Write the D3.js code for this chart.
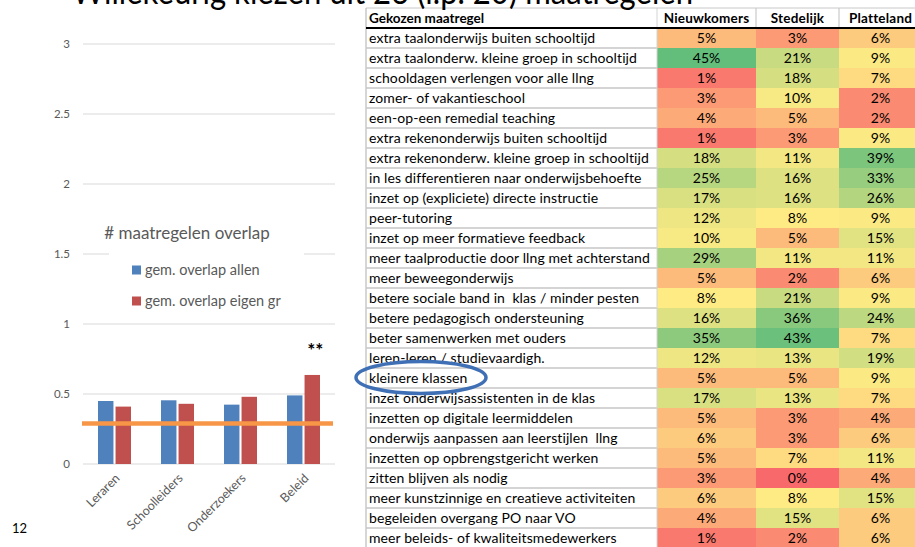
<!DOCTYPE html>
<html><head><meta charset="utf-8">
<script src="https://cdn.jsdelivr.net/npm/d3@7"></script>
<style>
html,body{margin:0;padding:0;background:#fff;}
svg{display:block;font-family:Lato,"Open Sans",sans-serif;}
text{white-space:pre;}
</style></head>
<body><svg id="c" width="915" height="547"></svg>
<script>
// ---- Left chart data ----
const groups = ["Leraren","Schoolleiders","Onderzoekers","Beleid"];
const overlapAll = [0.45, 0.455, 0.424, 0.49];
const overlapOwn = [0.41, 0.43, 0.48, 0.636];
const chanceLevel = 0.29;
const yTicks = [0, 0.5, 1, 1.5, 2, 2.5, 3];
const seriesNames = ["gem. overlap allen", "gem. overlap eigen gr"];

// ---- Table data ----
const columns = ["Nieuwkomers","Stedelijk","Platteland"];
const measures = [
 "extra taalonderwijs buiten schooltijd",
 "extra taalonderw. kleine groep in schooltijd",
 "schooldagen verlengen voor alle llng",
 "zomer- of vakantieschool",
 "een-op-een remedial teaching",
 "extra rekenonderwijs buiten schooltijd",
 "extra rekenonderw. kleine groep in schooltijd",
 "in les differentieren naar onderwijsbehoefte",
 "inzet op (expliciete) directe instructie",
 "peer-tutoring",
 "inzet op meer formatieve feedback",
 "meer taalproductie door llng met achterstand",
 "meer beweegonderwijs",
 "betere sociale band in  klas / minder pesten",
 "betere pedagogisch ondersteuning",
 "beter samenwerken met ouders",
 "leren-leren / studievaardigh.",
 "kleinere klassen",
 "inzet onderwijsassistenten in de klas",
 "inzetten op digitale leermiddelen",
 "onderwijs aanpassen aan leerstijlen  llng",
 "inzetten op opbrengstgericht werken",
 "zitten blijven als nodig",
 "meer kunstzinnige en creatieve activiteiten",
 "begeleiden overgang PO naar VO",
 "meer beleids- of kwaliteitsmedewerkers"
];
const nieuwkomers = [5,45,1,3,4,1,18,25,17,12,10,29,5,8,16,35,12,5,17,5,6,5,3,6,4,1];
const stedelijk   = [3,21,18,10,5,3,11,16,16,8,5,11,2,21,36,43,13,5,13,3,3,7,0,8,15,2];
const platteland  = [6,9,7,2,2,9,39,33,26,9,15,11,6,9,24,7,19,9,7,4,6,11,4,15,6,6];
const highlighted = "kleinere klassen";
const titleText = "Willekeurig kiezen uit 26 (i.p. 20) maatregelen";
const slideNumber = "12";

const svg = d3.select("#c");

// ================= LEFT CHART =================
const L = {x0: 83, x1: 335, y0: 464, y1: 44};
const y = d3.scaleLinear().domain([0, 3]).range([L.y0, L.y1]);
const x = d3.scaleBand().domain(groups).range([L.x0, L.x1]);
const inner = d3.scaleBand().domain([0,1]).range([x.bandwidth()/2 - 16.5, x.bandwidth()/2 + 16.5]).paddingInner(0.12);

const left = svg.append("g");
left.append("g").selectAll("line").data(yTicks).join("line")
  .attr("x1", L.x0).attr("x2", L.x1)
  .attr("y1", d => y(d)).attr("y2", d => y(d))
  .attr("stroke", "#d9d9d9").attr("stroke-width", 1);
const yAxis = d3.axisLeft(y).tickValues(yTicks).tickSize(0).tickPadding(0).tickFormat(d3.format(""));
const yg = left.append("g").attr("transform", `translate(${L.x0 - 13},0)`).call(yAxis);
yg.select(".domain").remove();
yg.selectAll("text").attr("fill", "#595959").style("font-size", "11.5px").style("font-family", "Lato, sans-serif");

// legend / title white box
left.append("rect").attr("x", 109).attr("y", 205).attr("width", 195).attr("height", 108).attr("fill", "#fff");
left.append("text").attr("x", 187).attr("y", 239).attr("text-anchor", "middle")
  .attr("fill", "#595959").style("font-size", "17px").text("# maatregelen overlap");
const legColors = ["#4F81BD", "#C0504D"];
seriesNames.forEach((s, i) => {
  const ly = 270 + i * 31;
  left.append("rect").attr("x", 132).attr("y", ly - 4.5).attr("width", 9).attr("height", 9).attr("fill", legColors[i]);
  left.append("text").attr("x", 145).attr("y", ly + 5).attr("fill", "#595959").style("font-size", "14.5px").text(s);
});

// bars
const seriesData = [overlapAll, overlapOwn];
groups.forEach((g, gi) => {
  seriesData.forEach((arr, si) => {
    left.append("rect")
      .attr("x", x(g) + inner(si)).attr("width", inner.bandwidth())
      .attr("y", y(arr[gi])).attr("height", y(0) - y(arr[gi]))
      .attr("fill", legColors[si]);
  });
});
left.append("line").attr("x1", L.x0 - 1).attr("x2", L.x1 - 2)
  .attr("y1", y(chanceLevel)).attr("y2", y(chanceLevel))
  .attr("stroke", "#F79646").attr("stroke-width", 4.5);
left.append("text").attr("x", x("Beleid") + inner(1) + inner.bandwidth()/2 + 3).attr("y", y(overlapOwn[3]) - 18)
  .attr("text-anchor", "middle").attr("fill", "#000").style("font-size", "19px").style("font-weight", "bold").text("**");
left.append("g").selectAll("text").data(groups).join("text")
  .attr("transform", d => `translate(${x(d) + x.bandwidth()/2 + 6},${L.y0 + 15}) rotate(-45)`)
  .attr("text-anchor", "end").attr("fill", "#595959").style("font-size", "12.5px").text(d => d);

svg.append("text").attr("x", 12).attr("y", 533).attr("fill", "#000").style("font-size", "13px").text(slideNumber);

// ================= TABLE =================
const T = {x: 366, top: 8, headerBottom: 28, rowH: 20};
const colEdges = [366, 657, 756, 839, 922];
const allVals = nieuwkomers.concat(stedelijk, platteland);
const sorted = allVals.slice().sort((a,b) => a-b);
const color = d3.scaleLinear()
  .domain([d3.min(allVals), d3.quantile(sorted, 0.5), d3.max(allVals)])
  .range(["#F8696B", "#FFEB84", "#63BE7B"]);
const colData = [nieuwkomers, stedelijk, platteland];
const rowY = d3.scaleBand().domain(d3.range(measures.length))
  .range([T.headerBottom, T.headerBottom + T.rowH * measures.length]);

const tbl = svg.append("g");
tbl.append("rect").attr("x", colEdges[0]).attr("y", T.top).attr("width", 915 - colEdges[0]).attr("height", T.headerBottom - T.top).attr("fill", "#fff");
tbl.append("text").attr("x", colEdges[0] + 3).attr("y", 23).style("font-size", "13.5px").style("font-weight", "bold").attr("fill", "#000").text("Gekozen maatregel");
columns.forEach((c, i) => {
  tbl.append("text").attr("x", (colEdges[i+1] + colEdges[i+2]) / 2).attr("y", 23).attr("text-anchor", "middle")
    .style("font-size", "13.5px").style("letter-spacing", "0.2px").style("font-weight", "bold").attr("fill", "#000").text(c);
});
measures.forEach((m, r) => {
  const yy = rowY(r);
  tbl.append("rect").attr("x", colEdges[0]).attr("y", yy).attr("width", colEdges[1] - colEdges[0]).attr("height", T.rowH).attr("fill", "#fff");
  tbl.append("text").attr("x", colEdges[0] + 3).attr("y", yy + 15).style("font-size", "14px").style("letter-spacing", "0.1px").attr("fill", "#000").text(m);
  colData.forEach((arr, ci) => {
    tbl.append("rect").attr("x", colEdges[ci+1]).attr("y", yy).attr("width", colEdges[ci+2] - colEdges[ci+1]).attr("height", T.rowH)
      .attr("fill", color(arr[r]));
    tbl.append("text").attr("x", (colEdges[ci+1] + colEdges[ci+2]) / 2).attr("y", yy + 15).attr("text-anchor", "middle")
      .style("font-size", "14px").attr("fill", "#000").text(arr[r] + "%");
  });
});
tbl.append("g").selectAll("line").data(d3.range(measures.length + 1)).join("line")
  .attr("x1", colEdges[0]).attr("x2", colEdges[1])
  .attr("y1", d => T.headerBottom + d * T.rowH).attr("y2", d => T.headerBottom + d * T.rowH)
  .attr("stroke", "#d4d4d4").attr("stroke-width", 2);
tbl.append("line").attr("x1", colEdges[0]).attr("x2", colEdges[0]).attr("y1", T.top).attr("y2", 547).attr("stroke", "#c8c8c8").attr("stroke-width", 1.5);
tbl.append("line").attr("x1", colEdges[1]).attr("x2", colEdges[1]).attr("y1", T.top).attr("y2", 547).attr("stroke", "#d4d4d4").attr("stroke-width", 1);
[colEdges[2], colEdges[3]].forEach(cx => tbl.append("line").attr("x1", cx).attr("x2", cx).attr("y1", T.top).attr("y2", T.headerBottom).attr("stroke", "#d4d4d4").attr("stroke-width", 1.5));
tbl.append("line").attr("x1", colEdges[0]).attr("x2", 915).attr("y1", T.top).attr("y2", T.top).attr("stroke", "#c8c8c8").attr("stroke-width", 1);
tbl.append("line").attr("x1", colEdges[0]).attr("x2", 915).attr("y1", T.headerBottom).attr("y2", T.headerBottom).attr("stroke", "#000").attr("stroke-width", 2);

const hi = measures.indexOf(highlighted);
svg.append("ellipse").attr("cx", 421).attr("cy", rowY(hi) + T.rowH/2 - 0.5).attr("rx", 65).attr("ry", 16)
  .attr("fill", "none").attr("stroke", "#3F6FB5").attr("stroke-width", 3.5);

// title (cut off at top edge, as in the slide)
svg.append("text").attr("x", 72).attr("y", 4).attr("fill", "#000").style("font-size", "34px")
  .attr("textLength", 621).attr("lengthAdjust", "spacingAndGlyphs").text(titleText);
</script></body></html>
